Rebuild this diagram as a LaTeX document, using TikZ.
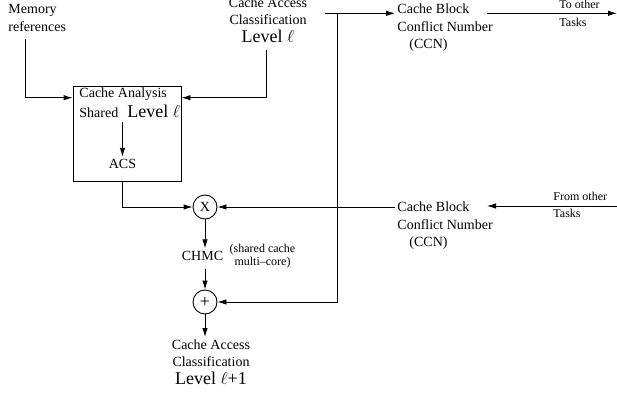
\documentclass[tikz,border=0pt]{standalone}
\usepackage{fontspec}
\setmainfont{Liberation Serif}
\usetikzlibrary{arrows.meta}
\newcommand{\biglev}{\fontsize{18}{20}\selectfont}

\begin{document}
\begin{tikzpicture}[>={Latex[length=9pt,width=5.5pt]}, x=1pt, y=-1pt, line width=0.9pt]
        \tikzset{txt/.style={font=\fontsize{14}{17.5}\selectfont, inner sep=2pt}, small/.style={font=\fontsize{12}{12.5}\selectfont, inner sep=1pt}, junction/.style={circle, draw, minimum size=24pt, inner sep=0pt, font=\fontsize{14}{17.5}\selectfont}}
        \useasboundingbox (0,0) rectangle (617,396);
        \node[txt, align=left, anchor=north west] (mem) at (6,2) {Memory\\references};
        \node[txt, align=center, anchor=south] (cac) at (268,45) {Cache Access\\Classification\\{\biglev Level $\ell$}};
        \node[draw, minimum width=108pt, minimum height=95pt] (box) at (127,133.5) {};
        \node[txt, anchor=west] (ca) at (77,94.5) {Cache Analysis};
        \node[txt, anchor=west] (shd) at (77,112.5) {Shared};
        \node[txt, anchor=west, font=\biglev] (lev) at (125,111) {Level $\ell$};
        \node[txt] (acs) at (122.5,164) {ACS};
        \node[junction] (mul) at (205,207) {X};
        \node[txt] (chmc) at (202.5,255.5) {CHMC};
        \node[small, align=center] (note) at (262.5,256) {(shared cache\\multi--core)};
        \node[junction, font=\fontsize{18}{20}\selectfont] (add) at (205,302) {+};
        \node[txt, align=center, anchor=north] (out) at (211,337) {Cache Access\\Classification\\{\biglev Level $\ell$+1}};
        \node[txt, align=left, anchor=north west] (ccn1) at (395,1.4) {Cache Block\\Conflict Number\\\hspace*{12pt}(CCN)};
        \node[txt, align=left, anchor=north west] (ccn2) at (395,199.4) {Cache Block\\Conflict Number\\\hspace*{12pt}(CCN)};
        \node[small, anchor=west] (to1) at (558,4) {To other};
        \node[small, anchor=west] (to2) at (558,22) {Tasks};
        \node[small, anchor=west] (from1) at (552,196) {From other};
        \node[small, anchor=west] (from2) at (552,213) {Tasks};
        \coordinate (inlev) at (0,97.7);
        \coordinate (stub) at (325,13.3);
        \coordinate (split) at (337,13.3);
        \coordinate (togo1) at (487,13.3);
        \coordinate (togo2) at (617,13.3);
        \coordinate (come1) at (617,206);
        \coordinate (come2) at (487,206);
        \draw[->] ([xshift=-11.75pt,yshift=-5.7pt]mem.south) |- (box.west |- inlev);
        \draw[->] ([xshift=-2pt,yshift=-5pt]cac.south) |- (box.east |- inlev);
        \draw[->] ([yshift=-2pt]acs |- shd.south) -- (acs.north);
        \draw[->] (acs |- box.south) |- (mul.west);
        \draw[->] (mul.south) -- (mul |- chmc.north);
        \draw[->] (mul |- note.south) -- (add.north);
        \draw[->] (add.south) -- (add |- out.north);
        \draw[->] (stub) -- (split -| ccn1.west);
        \draw[->] (split) |- (add.east);
        \draw[->] (togo1) -- (togo2);
        \draw[->] (come1) -- (come2);
        \draw[->] (ccn2.west |- mul) -- (mul.east);
    \end{tikzpicture}
\end{document}
